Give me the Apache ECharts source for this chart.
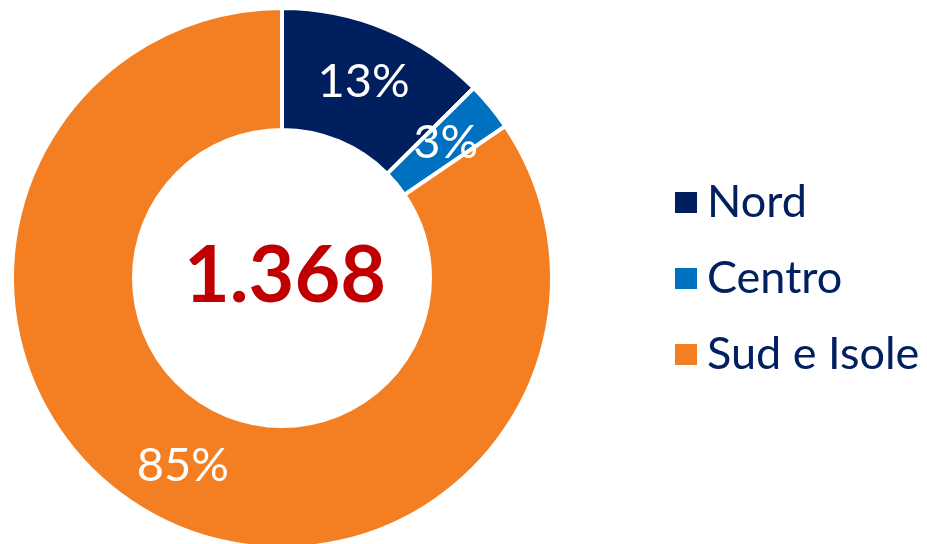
<!DOCTYPE html>
<html>
<head>
<meta charset="utf-8">
<script src="https://cdn.jsdelivr.net/npm/echarts@6/dist/echarts.min.js"></script>
<style>
	html, body { margin: 0; padding: 0; background: #ffffff; }
	#chart { width: 927px; height: 544px; }
</style>
</head>
<body>
<div id="chart"></div>
<script>
// regions and counts (total 1.368)
const regions = ["Nord", "Centro", "Sud e Isole"];
const counts = [172, 40, 1156];
const colors = ["#001F5F", "#0070C0", "#F47E22"];
const totalLabel = "1.368";

let total = counts.reduce((a, b) => a + b, 0);
let pieData = regions.map((name, i) => ({
	name: name,
	value: counts[i],
	itemStyle: { color: colors[i] }
}));

let chart = echarts.init(document.getElementById("chart"));
let option = {
	animation: false,
	legend: {
		orient: "vertical",
		left: 668,
		top: 175,
		icon: "rect",
		itemWidth: 24,
		itemHeight: 23,
		itemGap: 31,
		data: regions,
		textStyle: {
			fontFamily: "Lato",
			fontSize: 45,
			lineHeight: 45,
			color: "#002060",
			padding: [0, 0, 0, 4]
		}
	},
	graphic: [
		{
			type: "text",
			x: 285,
			y: 277,
			style: {
				text: totalLabel,
				fontFamily: "Lato",
				fontWeight: "bold",
				fontSize: 79,
				fill: "#C00000",
				textAlign: "center",
				textVerticalAlign: "middle"
			}
		}
	],
	series: [
		{
			type: "pie",
			center: [282, 278],
			radius: [148, 270],
			startAngle: 90,
			data: pieData,
			itemStyle: {
				borderColor: "#ffffff",
				borderWidth: 4
			},
			label: {
				show: true,
				position: "inside",
				color: "#ffffff",
				fontFamily: "Lato",
				fontSize: 47,
				formatter: function(p) {
					return Math.round(p.value / total * 100) + "%";
				}
			},
			labelLine: { show: false }
		}
	]
};
chart.setOption(option);
</script>
</body>
</html>
